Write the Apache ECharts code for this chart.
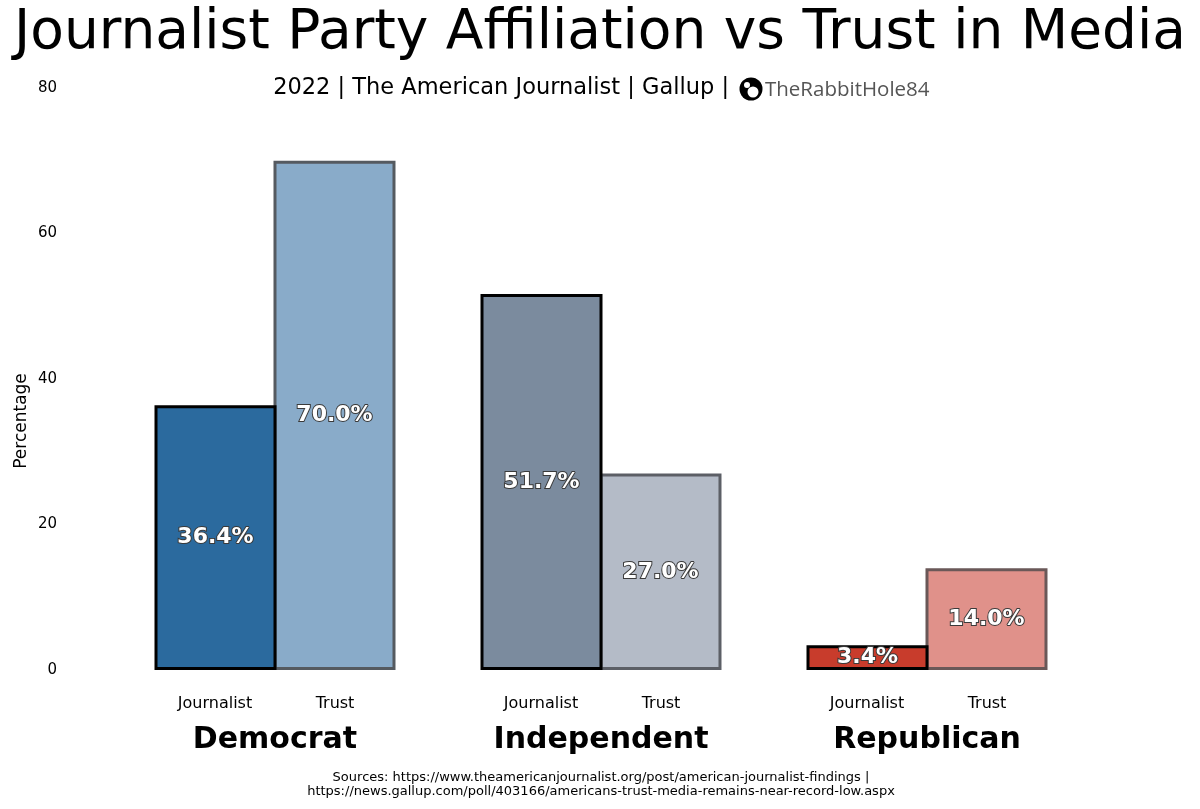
<!DOCTYPE html>
<html>
<head>
<meta charset="utf-8">
<script src="https://cdn.jsdelivr.net/npm/echarts@6/dist/echarts.min.js"></script>
<style>
    html, body { margin: 0; padding: 0; background: #fff; }
    #main { width: 1200px; height: 809px; }
</style>
</head>
<body>
<div id="main"></div>
<script>
// data
var groups = ['Democrat', 'Independent', 'Republican'];
var journalistPct = [36.4, 51.7, 3.4];
var trustPct = [70.0, 27.0, 14.0];
var yTicks = [0, 20, 40, 60, 80];

// colours per group
var journalistColors = ['#2b6a9e', '#7b8b9e', '#c83c2c'];
var trustColors = ['#89abc9', '#b4bbc7', '#e0918a'];
var trustBorders = ['#555a60', '#5c5f66', '#6a5858'];

var font = 'DejaVu Sans';

var labelStyle = {
    show: true,
    position: 'inside',
    formatter: function (p) { return p.value.toFixed(1) + '%'; },
    color: '#fff',
    fontFamily: font,
    fontWeight: 'bold',
    fontSize: 22,
    textBorderColor: '#3a3a3a',
    textBorderWidth: 2
};

var option = {
    backgroundColor: '#fff',
    animation: false,
    title: {
        text: 'Journalist Party Affiliation vs Trust in Media',
        left: 'center',
        top: 1,
        textStyle: { fontFamily: font, fontWeight: 'normal', fontSize: 55, color: '#000' }
    },
    grid: { left: 112, right: 110, top: 88, bottom: 139 },
    xAxis: {
        type: 'category',
        data: groups,
        axisLine: { show: false },
        axisTick: { show: false },
        axisLabel: {
            margin: 14,
            formatter: function (v) {
                return '{j|Journalist}{t|Trust}\n{g|' + v + '}';
            },
            rich: {
                j: { width: 120, align: 'center', fontFamily: font, fontSize: 16, color: '#000', lineHeight: 40 },
                t: { width: 120, align: 'center', fontFamily: font, fontSize: 16, color: '#000', lineHeight: 40 },
                g: { align: 'center', fontFamily: font, fontSize: 30, fontWeight: 'bold', color: '#000', lineHeight: 32 }
            }
        }
    },
    yAxis: {
        type: 'value',
        min: yTicks[0],
        max: yTicks[yTicks.length - 1],
        interval: 20,
        splitLine: { show: false },
        axisLine: { show: false },
        axisTick: { show: false },
        axisLabel: { margin: 55, fontFamily: font, fontSize: 15, color: '#000' }
    },
    series: [
        {
            name: 'Journalist',
            type: 'bar',
            z: 3,
            barWidth: 122,
            barGap: '-2.46%',
            data: journalistPct.map(function (v, i) {
                return { value: v, itemStyle: { color: journalistColors[i], borderColor: '#000', borderWidth: 3 } };
            }),
            label: labelStyle
        },
        {
            name: 'Trust',
            type: 'bar',
            z: 2,
            barWidth: 122,
            barGap: '-2.46%',
            data: trustPct.map(function (v, i) {
                return { value: v, itemStyle: { color: trustColors[i], borderColor: trustBorders[i], borderWidth: 3 } };
            }),
            label: labelStyle
        }
    ],
    graphic: [
        {
            type: 'text',
            x: 729, y: 88,
            style: {
                text: '2022 | The American Journalist | Gallup |',
                fontFamily: font, fontSize: 22.5, fill: '#000',
                textAlign: 'right', textVerticalAlign: 'middle'
            }
        },
        // logo
        { type: 'circle', shape: { cx: 751, cy: 89, r: 11.5 }, style: { fill: '#000' } },
        { type: 'circle', shape: { cx: 753, cy: 92, r: 5.5 }, style: { fill: '#fff' } },
        { type: 'circle', shape: { cx: 747, cy: 85, r: 3 }, style: { fill: '#fff' } },
        {
            type: 'text',
            x: 765, y: 90,
            style: {
                text: 'TheRabbitHole84',
                fontFamily: 'Open Sans', fontSize: 20.5, fill: '#555',
                textAlign: 'left', textVerticalAlign: 'middle'
            }
        },
        {
            type: 'text',
            x: 22, y: 421,
            rotation: Math.PI / 2,
            style: {
                text: 'Percentage',
                fontFamily: font, fontSize: 17, fill: '#000',
                textAlign: 'center', textVerticalAlign: 'middle'
            }
        },
        {
            type: 'text',
            x: 601, y: 785,
            style: {
                text: 'Sources: https://www.theamericanjournalist.org/post/american-journalist-findings |\nhttps://news.gallup.com/poll/403166/americans-trust-media-remains-near-record-low.aspx',
                fontFamily: font, fontSize: 13, fill: '#000', lineHeight: 14,
                textAlign: 'center', textVerticalAlign: 'middle'
            }
        }
    ]
};

var chart = echarts.init(document.getElementById('main'));
chart.setOption(option);
</script>
</body>
</html>
